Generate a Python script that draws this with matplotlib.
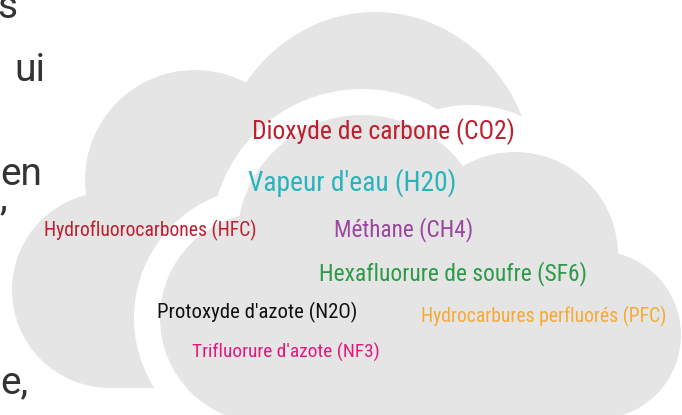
import matplotlib
matplotlib.use("Agg")
import matplotlib.pyplot as plt
from matplotlib import font_manager
from matplotlib.patches import Circle, Ellipse, Rectangle

# greenhouse gases shown in the cloud
gases = ["Dioxyde de carbone (CO2)", "Vapeur d'eau (H20)", "Hydrofluorocarbones (HFC)",
         "Méthane (CH4)", "Hexafluorure de soufre (SF6)", "Protoxyde d'azote (N2O)",
         "Hydrocarbures perfluorés (PFC)", "Trifluorure d'azote (NF3)"]
colors = ["#bf1e2e", "#29b4bc", "#bf1e2e", "#9b479f", "#2e9a48", "#111111",
          "#f7a934", "#e5177e"]

# layout of the words (pixel coords, y down): centre x, baseline y, width
word_x = [383, 352, 150, 404, 453, 257, 544, 286]
word_y = [139, 191, 236, 236, 280, 318, 322, 358]
word_w = [264, 210, 214, 140, 270, 201, 248, 189]

# bits of the page text cut on the left side
side_text = ["s", "ui", "en", ",", "e,"]
side_x = [-3, 14, 0, 0, 0]
side_y = [18, 81, 185, 209, 393]

names = {f.name for f in font_manager.fontManager.ttflist}
fam = "Roboto Condensed" if "Roboto Condensed" in names else "Roboto"

W, H = 682, 415
fig = plt.figure(figsize=(W / 100, H / 100), dpi=100)
ax = fig.add_axes([0, 0, 1, 1])
ax.set_xlim(0, W)
ax.set_ylim(H, 0)
ax.axis("off")

grey = "#e5e5e5"
# back cloud
ax.add_patch(Ellipse((375, 185), 320, 346, color=grey, lw=0))
ax.add_patch(Circle((195, 180), 110, color=grey, lw=0))
ax.add_patch(Circle((110, 290), 98, color=grey, lw=0))
ax.add_patch(Rectangle((110, 150), 310, 238, color=grey, lw=0))

# front cloud: white outline first, then the grey body
front = [((362, 240), 125), ((515, 255), 103), ((597, 335), 84), ((265, 318), 105)]
band = 26
for c, r in front:
    ax.add_patch(Circle(c, r + band, color="white", lw=0))
ax.add_patch(Ellipse((470, 230), 250, 250, color="white", lw=0))
for c, r in front:
    ax.add_patch(Circle(c, r, color=grey, lw=0))
ax.add_patch(Rectangle((265, 240), 335, 180, color=grey, lw=0))

fig.canvas.draw()
rend = fig.canvas.get_renderer()
for g, col, x, y, w in zip(gases, colors, word_x, word_y, word_w):
    t = ax.text(x, y, g, color=col, fontsize=14, family=fam, ha="center", va="baseline")
    bb = t.get_window_extent(rend)
    t.set_fontsize(14 * w / bb.width)

for s, x, y in zip(side_text, side_x, side_y):
    ax.text(x, y, s, color="#333333", fontsize=28, family="Roboto",
            ha="left", va="baseline")

fig.savefig("out.png", dpi=100)
